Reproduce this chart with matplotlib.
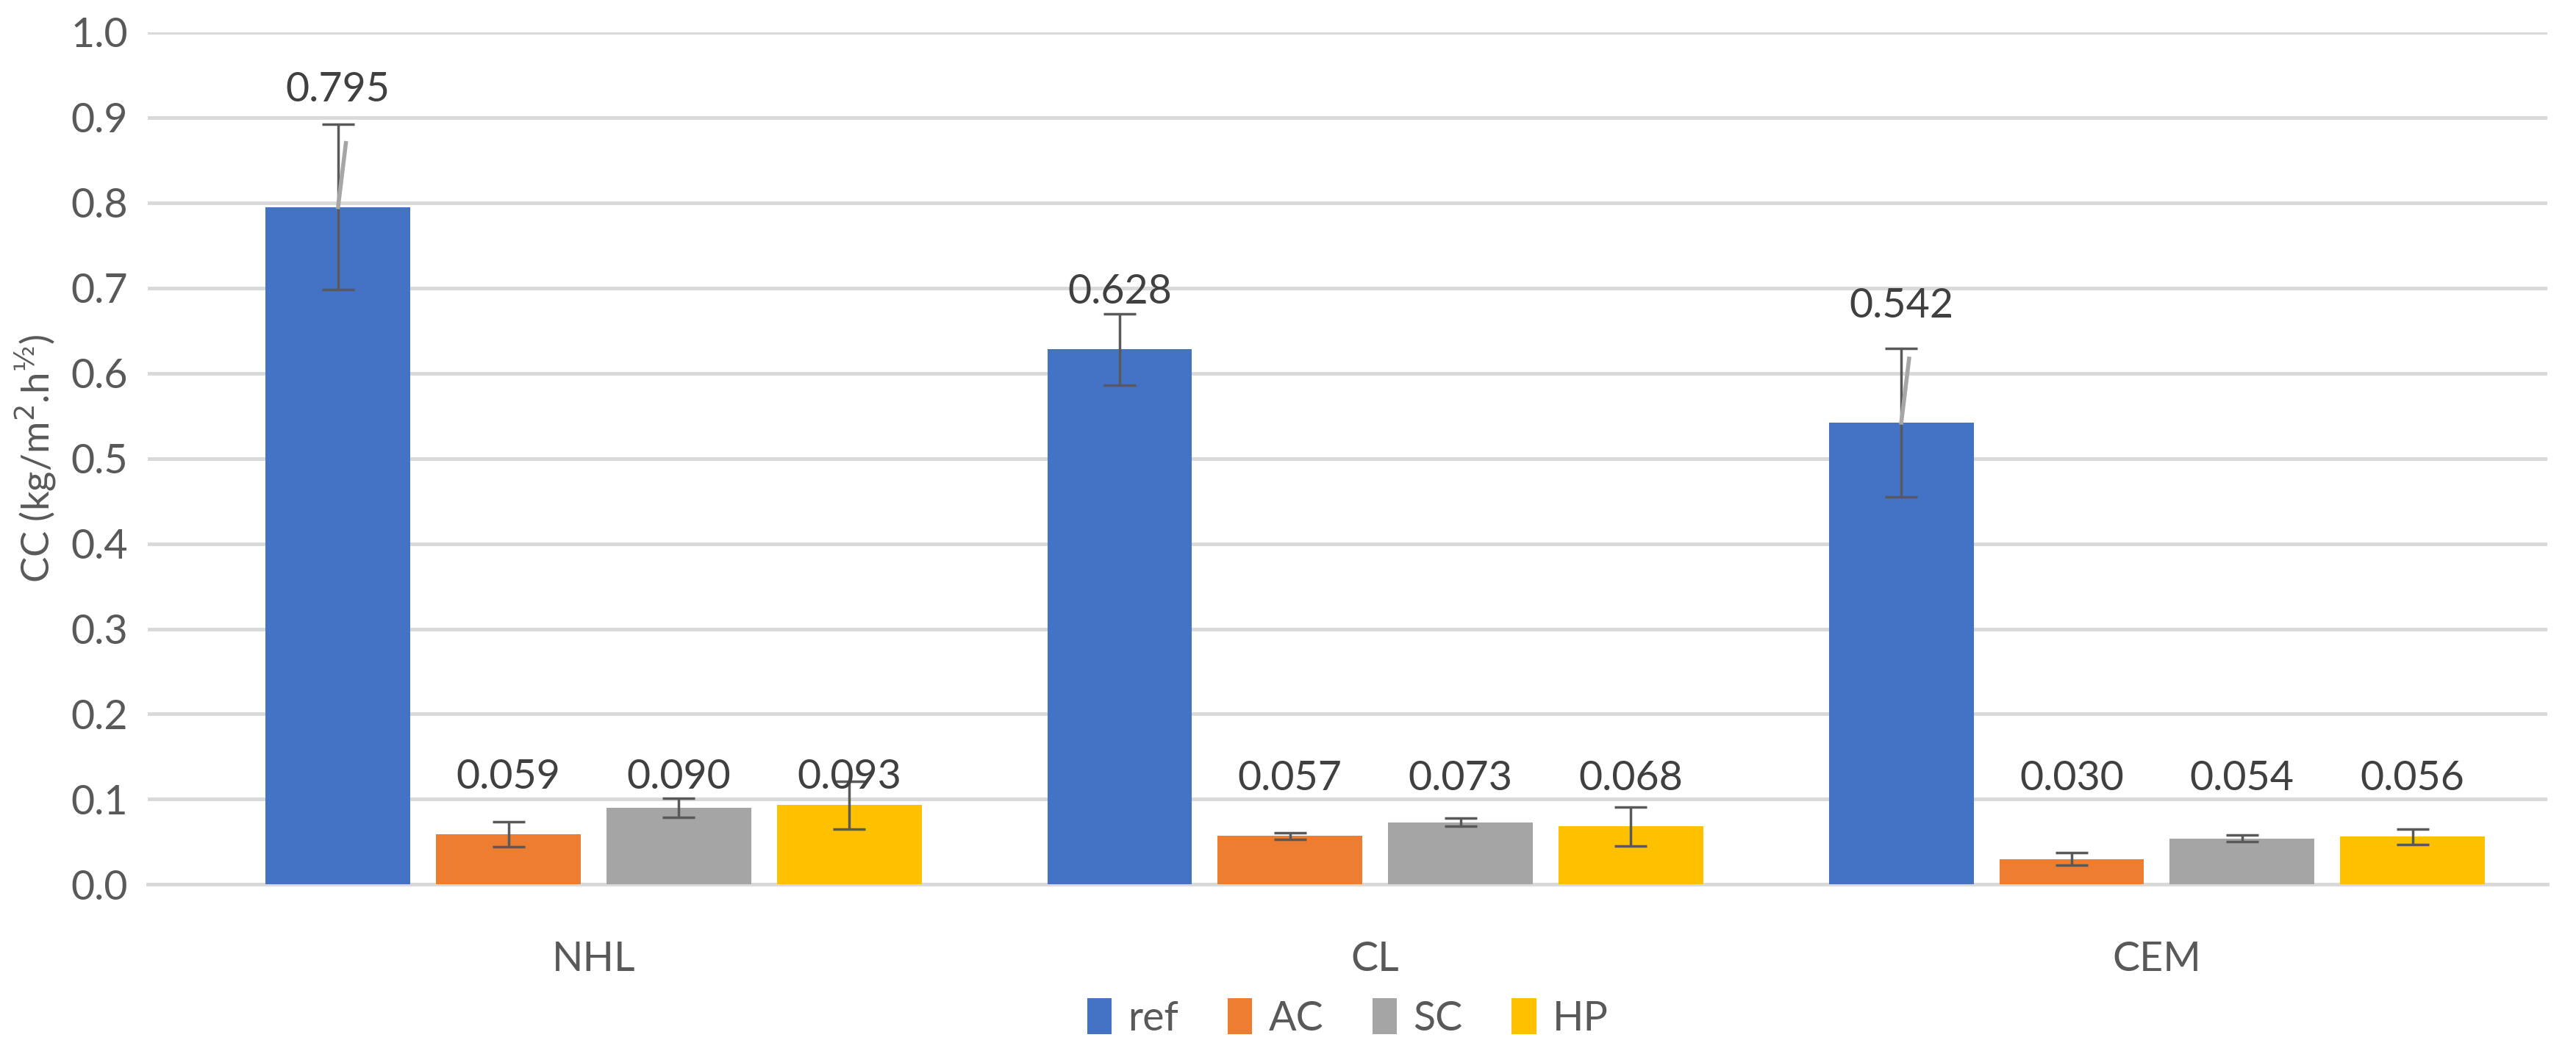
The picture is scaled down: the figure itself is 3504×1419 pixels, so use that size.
import matplotlib
matplotlib.use("Agg")
import matplotlib.pyplot as plt
import numpy as np

plt.rcParams["font.family"] = ["Lato", "DejaVu Sans"]
plt.rcParams["mathtext.fontset"] = "dejavusans"

groups = ["NHL", "CL", "CEM"]
series = ["ref", "AC", "SC", "HP"]
values = {
    "ref": [0.795, 0.628, 0.542],
    "AC": [0.059, 0.057, 0.030],
    "SC": [0.090, 0.073, 0.054],
    "HP": [0.093, 0.068, 0.056],
}
errors = {
    "ref": [0.097, 0.042, 0.087],
    "AC": [0.015, 0.004, 0.007],
    "SC": [0.011, 0.005, 0.004],
    "HP": [0.028, 0.023, 0.009],
}
colors = {"ref": "#4472C4", "AC": "#ED7D31", "SC": "#A5A5A5", "HP": "#FFC000"}

fig = plt.figure(figsize=(35.04, 14.19), dpi=100)
ax = fig.add_axes([0.0575, 0.152, 0.9315, 0.817])

x = np.arange(len(groups))
step = 0.218
width = 0.185
txt = "#404040"
for i, s in enumerate(series):
    pos = x + (i - 1.5) * step
    ax.bar(pos, values[s], width, color=colors[s], zorder=3, label=s)
    ax.errorbar(pos, values[s], yerr=errors[s], fmt="none", ecolor="#595959",
                elinewidth=2.5, capsize=16, capthick=2.5, zorder=4)
    for j, v in enumerate(values[s]):
        if s == "ref" and errors[s][j] > 0.08:
            # label lifted above the error bar, with a leader line
            ax.plot([pos[j], pos[j] + 0.01], [v, v + 0.075], color="#A6A6A6",
                    lw=4, zorder=5)
            ly = v + 0.115
        elif s == "ref":
            ly = v + 0.045
        else:
            ly = 0.104 if j == 0 else 0.102
        ax.text(pos[j], ly, f"{v:.3f}", ha="center", va="bottom",
                fontsize=40, color=txt, zorder=6)

ax.set_xlim(-0.57, 2.5)
ax.set_ylim(0, 1.0)
ticks = np.arange(0, 1.01, 0.1)
ax.set_yticks(ticks)
ax.set_yticklabels([f"{t:.1f}" for t in ticks])
ax.set_xticks(x)
ax.set_xticklabels(groups)
ax.tick_params(axis="both", length=0, labelsize=40, labelcolor="#595959", pad=20)
ax.tick_params(axis="x", pad=55)
ax.yaxis.grid(True, color="#D9D9D9", lw=3.5, zorder=0)
for sp in ["top", "right", "left"]:
    ax.spines[sp].set_visible(False)
ax.spines["bottom"].set_color("#D9D9D9")
ax.spines["bottom"].set_linewidth(3.5)
ax.set_ylabel("CC (kg/m$^2$.h$^{½}$)", fontsize=38, color="#595959", labelpad=12)

ax.legend(loc="upper center", bbox_to_anchor=(0.5, -0.09), ncol=4, frameon=False,
          fontsize=40, labelcolor="#595959", handlelength=0.6, handleheight=1.0,
          handletextpad=0.4, columnspacing=1.2)

fig.savefig("out.png", dpi=100)
